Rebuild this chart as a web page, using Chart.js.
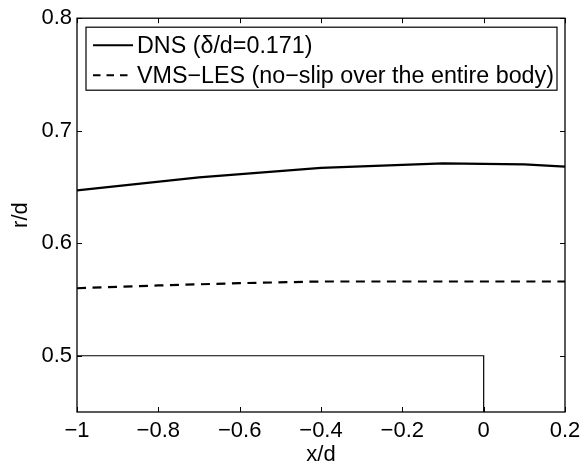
<!DOCTYPE html>
<html>
<head>
<meta charset="utf-8">
<script src="https://cdn.jsdelivr.net/npm/chart.js@4/dist/chart.umd.min.js"></script>
<style>
  html, body { margin: 0; padding: 0; background: #fff; }
  #chart { display: block; }
</style>
</head>
<body>
<canvas id="chart" width="587" height="470"></canvas>
<script>
const xTicks = [-1, -0.8, -0.6, -0.4, -0.2, 0, 0.2];
const yTicks = [0.5, 0.6, 0.7, 0.8];

// DNS (solid)
const dnsX = [-1, -0.7, -0.4, -0.1, 0.1, 0.2];
const dnsR = [0.647, 0.6585, 0.667, 0.671, 0.670, 0.668];

// VMS-LES (dashed)
const lesX = [-1, -0.8, -0.6, -0.4, -0.2, 0, 0.2];
const lesR = [0.560, 0.5625, 0.5645, 0.566, 0.566, 0.566, 0.566];

// body outline
const bodyX = [-1, 0, 0];
const bodyR = [0.5, 0.5, 0.45];

const legendLabels = ["DNS (\u03b4/d=0.171)", "VMS\u2212LES (no\u2212slip over the entire body)"];

const FONT = "Liberation Sans, Arial, Helvetica, sans-serif";
const ctx = document.getElementById("chart");

function pts(xs, ys) {
    return xs.map((x, i) => ({x: x, y: ys[i]}));
}

function fmt(v) {
    return String(v).replace("-", "\u2212");
}

// frame, inward ticks and the legend box
const framePlugin = {
    id: "frame",
    afterDraw(chart) {
        const c = chart.ctx;
        const a = chart.chartArea;
        const xs = chart.scales.x;
        const ys = chart.scales.y;
        c.save();
        c.strokeStyle = "#000";
        c.lineWidth = 1.3;
        c.strokeRect(a.left, a.top, a.right - a.left, a.bottom - a.top);

        c.lineWidth = 1;
        const tl = 5;
        c.beginPath();
        for (const v of xTicks) {
            const px = Math.round(xs.getPixelForValue(v)) + 0.5;
            c.moveTo(px, a.bottom); c.lineTo(px, a.bottom - tl);
            c.moveTo(px, a.top); c.lineTo(px, a.top + tl);
        }
        for (const v of yTicks) {
            const py = Math.round(ys.getPixelForValue(v)) + 0.5;
            c.moveTo(a.left, py); c.lineTo(a.left + tl, py);
            c.moveTo(a.right, py); c.lineTo(a.right - tl, py);
        }
        c.stroke();

        // legend
        const bx = a.left + 9, by = a.top + 9;
        const bw = 471, bh = 63;
        c.fillStyle = "#fff";
        c.fillRect(bx, by, bw, bh);
        c.lineWidth = 1.2;
        c.strokeRect(bx, by, bw, bh);
        c.font = "23.3px " + FONT;
        c.fillStyle = "#000";
        c.textBaseline = "middle";
        const rows = [by + 18, by + 48];
        for (let i = 0; i < legendLabels.length; i++) {
            c.beginPath();
            c.lineWidth = 2;
            c.setLineDash(i === 0 ? [] : [7.5, 6]);
            c.moveTo(bx + 7, rows[i]);
            c.lineTo(bx + 47, rows[i]);
            c.stroke();
            c.setLineDash([]);
            c.fillText(legendLabels[i], bx + 51, rows[i] + 1);
        }
        c.restore();
    }
};

const tickFont = {family: FONT, size: 22};

new Chart(ctx, {
    type: "scatter",
    data: {
        datasets: [
            {
                label: "body",
                data: pts(bodyX, bodyR),
                showLine: true,
                borderColor: "#000",
                borderWidth: 1.2,
                pointRadius: 0,
                fill: false
            },
            {
                label: legendLabels[0],
                data: pts(dnsX, dnsR),
                showLine: true,
                borderColor: "#000",
                borderWidth: 2.2,
                pointRadius: 0,
                fill: false
            },
            {
                label: legendLabels[1],
                data: pts(lesX, lesR),
                showLine: true,
                borderColor: "#000",
                borderWidth: 2.2,
                borderDash: [9, 6.5],
                pointRadius: 0,
                fill: false
            }
        ]
    },
    options: {
        responsive: false,
        animation: false,
        devicePixelRatio: 1,
        layout: {
            padding: {left: 0, top: 16, right: 22, bottom: 0}
        },
        plugins: {
            legend: {display: false},
            tooltip: {enabled: false}
        },
        scales: {
            x: {
                type: "linear",
                min: -1,
                max: 0.2,
                grid: {display: false, drawTicks: false},
                border: {display: false},
                afterBuildTicks: s => { s.ticks = xTicks.map(v => ({value: v})); },
                afterFit: s => { s.height = 58; },
                ticks: {
                    color: "#000",
                    font: tickFont,
                    padding: 6,
                    maxRotation: 0,
                    autoSkip: false,
                    callback: v => fmt(v)
                },
                title: {
                    display: true,
                    text: "x/d",
                    color: "#000",
                    font: tickFont,
                    padding: {top: 0, bottom: 2}
                }
            },
            y: {
                type: "linear",
                min: 0.45,
                max: 0.8,
                grid: {display: false, drawTicks: false},
                border: {display: false},
                afterBuildTicks: s => { s.ticks = yTicks.map(v => ({value: v})); },
                afterFit: s => { s.width = 77; },
                ticks: {
                    color: "#000",
                    font: tickFont,
                    padding: 5,
                    autoSkip: false,
                    callback: v => fmt(v)
                },
                title: {
                    display: true,
                    text: "r/d",
                    color: "#000",
                    font: tickFont,
                    padding: {top: 8, bottom: 8}
                }
            }
        }
    },
    plugins: [framePlugin]
});
</script>
</body>
</html>
